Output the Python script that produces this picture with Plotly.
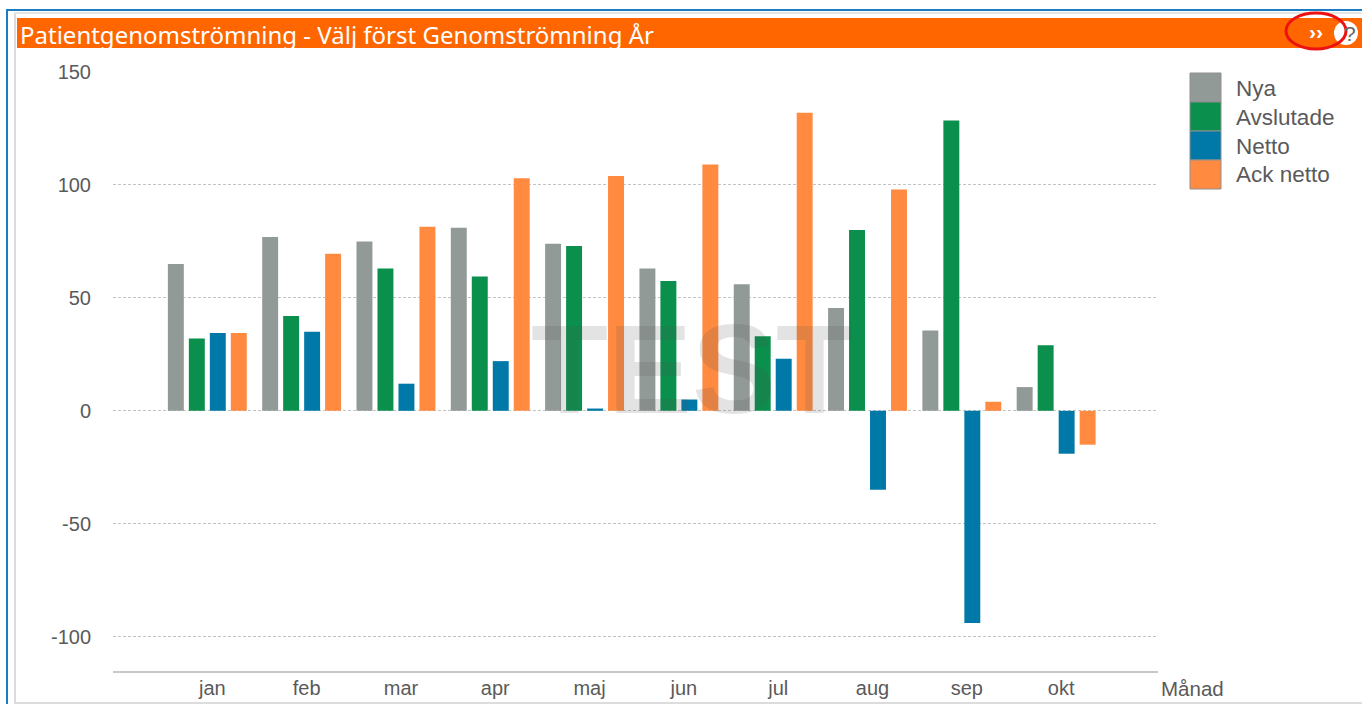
import plotly.graph_objects as go

months = ["jan", "feb", "mar", "apr", "maj", "jun", "jul", "aug", "sep", "okt"]
nya = [65, 77, 75, 81, 74, 63, 56, 45.5, 35.5, 10.5]
avslutade = [32, 42, 63, 59.5, 73, 57.5, 33, 80, 128.5, 29]
netto = [34.5, 35, 12, 22, 1, 5, 23, -35, -94, -19]
ack_netto = [34.5, 69.5, 81.5, 103, 104, 109, 132, 98, 4, -15]
y_ticks = [150, 100, 50, 0, -50, -100]
y_tick_labels = ["150", "100", "50", "0", "-50", "-100"]
title_text = "Patientgenomströmning - Välj först Genomströmning År"

W, H = 1362, 704
FONT = "Liberation Sans"
TXT = "#5a5a5a"
series = [("Nya", nya, "#929a97"), ("Avslutade", avslutade, "#0a8f4c"),
          ("Netto", netto, "#0079a9"), ("Ack netto", ack_netto, "#ff8a40")]


def px(x):
    return x / W


def py(y):
    return 1 - y / H


def rect(x0, y0, x1, y1, fill, line=None, kind="rect", lw=1, layer="above"):
    return dict(type=kind, xref="paper", yref="paper", x0=px(x0), x1=px(x1), y0=py(y1), y1=py(y0),
                fillcolor=fill, line=dict(color=line or "rgba(0,0,0,0)", width=lw), layer=layer)


def label(x, y, text, size, color=TXT, xanchor="left", family=FONT, **kw):
    return dict(xref="paper", yref="paper", x=px(x), y=py(y), text=text, showarrow=False,
                xanchor=xanchor, yanchor="middle", font=dict(family=family, size=size, color=color), **kw)


fig = go.Figure()
for name, vals, col in series:
    fig.add_trace(go.Bar(x=months, y=vals, name=name, marker=dict(color=col, line_width=0)))

shapes = [
    rect(6, 9, 8, 704, "#1a7cc4"),
    rect(6, 9, 1362, 11, "#1a7cc4"),
    rect(14, 13, 16, 704, "#dcdcdc"),
    rect(14, 12, 1362, 14, "#e6e6e6"),
    rect(14, 702, 1362, 704, "#dcdcdc"),
    rect(17, 18, 1362, 48, "#ff6600"),
    rect(1334, 21, 1358, 45, "white", kind="circle"),
    rect(1286, 13, 1346, 49, "rgba(0,0,0,0)", line="#ee1111", kind="circle", lw=3),
]
annotations = [
    label(18, 34, title_text, 24, color="white", family="Noto Sans"),
    label(1316, 32, "<b>››</b>", 21, color="white", xanchor="center"),
    label(1350, 33, "?", 21, color="#666666", xanchor="center"),
    label(692, 370, "<b>TEST</b>", 126, color="#555555", xanchor="center", opacity=0.16),
    label(1159, 688, "Månad", 20.5),
]
for i, (name, vals, col) in enumerate(series):
    top = 73 + i * 29
    shapes.append(rect(1190, top, 1221, top + 29, col, line="#8f8f8f"))
    annotations.append(label(1234, top + 15, name, 22.5))

fig.update_layout(
    width=W, height=H, autosize=False, margin=dict(l=0, r=0, t=0, b=0),
    paper_bgcolor="white", plot_bgcolor="white", showlegend=False,
    barmode="group", bargap=0.11, bargroupgap=0.24,
    shapes=shapes, annotations=annotations,
    xaxis=dict(domain=[px(113), px(1158)], type="category", range=[-1, 10.08], automargin=False,
               showgrid=False, zeroline=False, showline=True, linecolor="#c8c8c8", linewidth=2,
               ticks="", ticklabelshift=5, ticklabelstandoff=-2, anchor="y",
               tickfont=dict(family=FONT, size=20, color=TXT)),
    yaxis=dict(domain=[py(671), py(72)], range=[-115.2, 150], tickvals=y_ticks, ticktext=y_tick_labels,
               automargin=False,
               showgrid=True, gridcolor="#c4c4c4", griddash="3px,2px", gridwidth=1,
               zeroline=False, showline=False, ticks="outside", ticklen=17, tickcolor="white",
               tickfont=dict(family=FONT, size=20, color=TXT)),
)

fig.write_html("out.html", config=dict(displayModeBar=False),
               post_script="document.body.style.margin='0';document.body.style.overflow='hidden';")
